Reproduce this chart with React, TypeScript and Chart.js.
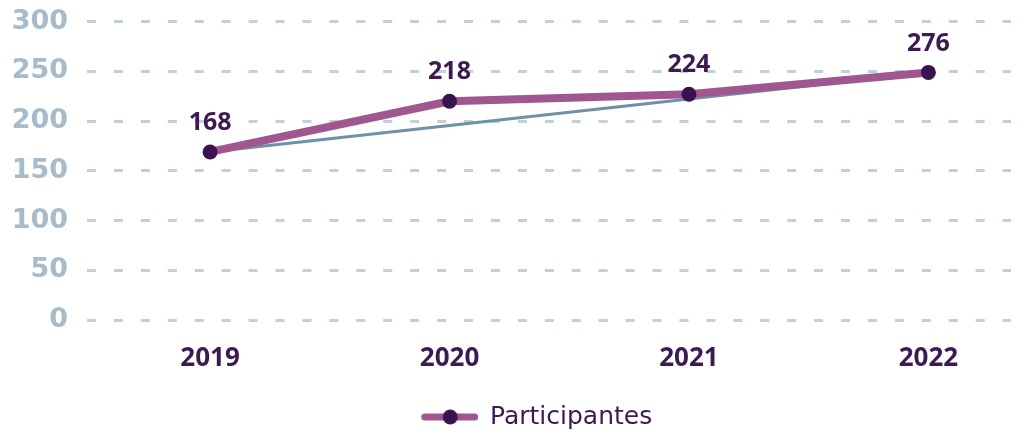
import React, { useEffect, useRef } from 'react';
import { Chart, registerables } from 'chart.js';

Chart.register(...registerables);

const years = ['2019', '2020', '2021', '2022'];
const participantes = [169, 220, 227, 249];
const dataLabels = ['168', '218', '224', '276'];
const tendencia: (number | null)[] = [169, null, null, 249];
const seriesName = 'Participantes';

const PURPLE = '#a0578f';
const DARK = '#3b1250';
const LABEL = '#3d1a52';
const TREND = '#6d92a7';
const GRID = '#c3d0da';
const YTICK = '#a8bbca';

// Legend box is wide (starts near the left edge); marker drawn at its right end.
const LEGEND_BOX_W = 467.5;

function makeLegendMarker(): HTMLCanvasElement {
  const c = document.createElement('canvas');
  const w = Math.round(LEGEND_BOX_W) + 1;
  c.width = w;
  c.height = 18;
  const g = c.getContext('2d')!;
  const x1 = w - 57;
  g.strokeStyle = PURPLE;
  g.lineWidth = 7;
  g.lineCap = 'round';
  g.beginPath();
  g.moveTo(x1 + 3.5, 9);
  g.lineTo(w - 3.5, 9);
  g.stroke();
  g.fillStyle = DARK;
  g.beginPath();
  g.arc(x1 + 29, 9, 7.5, 0, Math.PI * 2);
  g.fill();
  return c;
}

const valueLabelPlugin = {
  id: 'valueLabels',
  afterDatasetsDraw(chart: any) {
    const meta = chart.getDatasetMeta(0);
    const ctx = chart.ctx;
    ctx.save();
    ctx.font = 'bold 25px "Open Sans"';
    ctx.fillStyle = LABEL;
    ctx.textAlign = 'center';
    ctx.textBaseline = 'middle';
    meta.data.forEach((pt: any, i: number) => {
      ctx.fillText(dataLabels[i], pt.x, pt.y - 29);
    });
    ctx.restore();
  },
};

export default function App() {
  const ref = useRef<HTMLCanvasElement | null>(null);

  useEffect(() => {
    if (!ref.current) return;
    const marker = makeLegendMarker();
    const chart = new Chart(ref.current, {
      type: 'line',
      data: {
        datasets: [
          {
            label: seriesName,
            data: participantes.map((v, i) => ({ x: i, y: v })),
            borderColor: PURPLE,
            borderWidth: 8,
            pointRadius: 7.5,
            pointBackgroundColor: DARK,
            pointBorderWidth: 0,
            tension: 0,
          },
          {
            label: 'Tendencia',
            data: tendencia.map((v, i) => ({ x: i, y: v })),
            borderColor: TREND,
            borderWidth: 3,
            pointRadius: 0,
            spanGaps: true,
            tension: 0,
          },
        ],
      },
      options: {
        animation: false,
        responsive: true,
        maintainAspectRatio: false,
        layout: { padding: { left: 0, right: 18, top: 21.7, bottom: -5.5 } },
        plugins: {
          tooltip: { enabled: false },
          legend: {
            position: 'bottom',
            align: 'start',
            labels: {
              usePointStyle: true,
              pointStyleWidth: LEGEND_BOX_W,
              padding: 10,
              font: { family: '"DejaVu Sans"', size: 25 },
              color: LABEL,
              generateLabels: () => [
                {
                  text: seriesName,
                  pointStyle: marker as any,
                  fillStyle: DARK,
                  strokeStyle: PURPLE,
                  lineWidth: 0,
                  hidden: false,
                  datasetIndex: 0,
                  fontColor: LABEL,
                } as any,
              ],
            },
          },
        },
        scales: {
          x: {
            type: 'linear',
            min: -0.514,
            max: 3.345,
            grid: { display: false },
            border: { display: false },
            afterBuildTicks: (scale: any) => {
              scale.ticks = years.map((_, i) => ({ value: i }));
            },
            afterFit: (scale: any) => {
              scale.height = 74.5;
              scale.paddingLeft = 0;
              scale.paddingRight = 0;
            },
            ticks: {
              padding: 14.5,
              autoSkip: false,
              maxRotation: 0,
              color: LABEL,
              font: { family: '"Open Sans"', size: 26, weight: 'bold' },
              callback: (v: any) => years[v as number] ?? '',
            },
          },
          y: {
            min: 0,
            max: 300,
            afterFit: (scale: any) => {
              scale.width = 87;
              scale.paddingTop = 0;
              scale.paddingBottom = 0;
            },
            grid: {
              color: GRID,
              lineWidth: 3,
              drawTicks: false,
            },
            border: { display: false, dash: [9, 17.93] },
            ticks: {
              stepSize: 50,
              padding: 19,
              color: YTICK,
              font: { family: '"DejaVu Sans"', size: 27, weight: 'bold' },
            },
          },
        },
      },
      plugins: [valueLabelPlugin],
    });
    return () => chart.destroy();
  }, []);

  return (
    <div style={{ position: 'fixed', left: 0, top: 0, width: 1029, height: 434, background: '#fff' }}>
      <canvas ref={ref} />
    </div>
  );
}
